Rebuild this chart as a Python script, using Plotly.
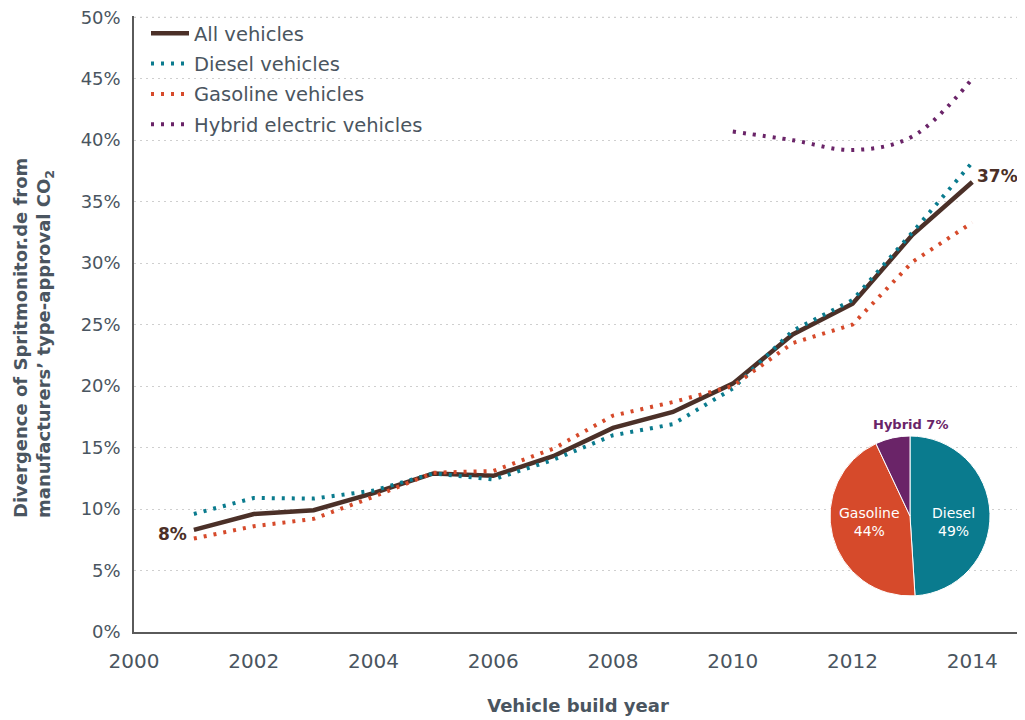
import plotly.graph_objects as go

years = [2001, 2002, 2003, 2004, 2005, 2006, 2007, 2008, 2009, 2010, 2011, 2012, 2013, 2014]
all_vehicles = [8.3, 9.6, 9.9, 11.3, 12.9, 12.7, 14.3, 16.6, 17.9, 20.2, 24.2, 26.7, 32.3, 36.6]
diesel = [9.6, 10.9, 10.85, 11.5, 12.9, 12.4, 14.0, 16.0, 16.9, 19.8, 24.5, 27.0, 32.5, 38.2]
gasoline = [7.6, 8.6, 9.2, 11.0, 12.95, 13.1, 14.9, 17.6, 18.7, 20.0, 23.5, 25.0, 30.1, 33.3]
hybrid_years = [2010, 2011, 2012, 2013, 2014]
hybrid = [40.7, 40.0, 39.2, 40.3, 45.0]

y_ticks = [0, 5, 10, 15, 20, 25, 30, 35, 40, 45, 50]
y_tick_labels = [f"{v}%" for v in y_ticks]

pie_labels = ["Diesel", "Gasoline", "Hybrid"]
pie_values = [49, 44, 7]

C_ALL = "#4b3028"
C_DIESEL = "#0a7b8e"
C_GAS = "#d64a2b"
C_HYB = "#6a2468"
GRAY = "#4a5560"
GRID = "#cfcfcf"
FONT = "DejaVu Sans"

# page body has an 8px margin; figure is sized so it ends at the window edge
OFF = 8
W, H = 1025 - OFF, 720 - OFF
L, T = 134 - OFF, 16 - OFF
R = W - (1022 - OFF)
B = H - (632 - OFF)
PW, PH = W - L - R, H - T - B


def px(x):
    return (x - OFF - L) / PW


def py(y):
    return (H - B - (y - OFF)) / PH


fig = go.Figure()
dots = "3px,7px"
fig.add_trace(go.Scatter(x=years, y=all_vehicles, mode="lines", name="All vehicles",
                         legendgroup="a", line=dict(color=C_ALL, width=4.5)))
fig.add_trace(go.Scatter(x=years, y=diesel, mode="lines", name="Diesel vehicles",
                         legendgroup="b", line=dict(color=C_DIESEL, width=4, dash=dots)))
fig.add_trace(go.Scatter(x=years, y=gasoline, mode="lines", name="Gasoline vehicles",
                         legendgroup="c", line=dict(color=C_GAS, width=4, dash=dots)))
fig.add_trace(go.Scatter(x=hybrid_years, y=hybrid, mode="lines", name="Hybrid electric vehicles",
                         legendgroup="d", line=dict(color=C_HYB, width=4, dash=dots, shape="spline")))

fig.add_trace(go.Pie(labels=pie_labels, values=pie_values, sort=False, direction="clockwise",
                     rotation=0, textinfo="none", showlegend=False, hoverinfo="label+percent",
                     marker=dict(colors=[C_DIESEL, C_GAS, C_HYB], line=dict(color="white", width=1)),
                     domain=dict(x=[px(830), px(990)], y=[py(596), py(436)])))

fig.add_annotation(x=years[0], y=all_vehicles[0], text="<b>8%</b>", showarrow=False,
                   xanchor="right", xshift=-5, yshift=-4, font=dict(size=17, color=C_ALL, family=FONT))
fig.add_annotation(x=years[-1], y=all_vehicles[-1], text="<b>37%</b>", showarrow=False,
                   xanchor="left", xshift=3, yshift=6, font=dict(size=17, color=C_ALL, family=FONT))

fig.add_annotation(xref="paper", yref="paper", x=px(869), y=py(522), xanchor="center", yanchor="middle",
                   text="Gasoline<br>44%", showarrow=False, font=dict(size=14, color="white", family=FONT))
fig.add_annotation(xref="paper", yref="paper", x=px(953), y=py(522), xanchor="center", yanchor="middle",
                   text="Diesel<br>49%", showarrow=False, font=dict(size=14, color="white", family=FONT))
fig.add_annotation(xref="paper", yref="paper", x=px(910), y=py(424), xanchor="center", yanchor="middle",
                   text="<b>Hybrid 7%</b>", showarrow=False, font=dict(size=13, color=C_HYB, family=FONT))

# y-axis title (two lines, aligned at the bottom like the reference)
fig.add_annotation(xref="paper", yref="paper", x=px(33), y=py(338), xanchor="center", yanchor="middle",
                   textangle=-90, align="left", showarrow=False,
                   text="<b>Divergence of Spritmonitor.de from<br>manufacturers\u2019 type-approval CO<sub>2</sub></b>",
                   font=dict(size=18, color=GRAY, family=FONT))

# top gridline at 50% (plotly drops gridlines at the very edge of the plot)
fig.add_shape(type="line", xref="paper", yref="y", x0=0, x1=1, y0=y_ticks[-1], y1=y_ticks[-1],
              line=dict(color=GRID, width=1.2, dash="2px,4px"), layer="below")

fig.update_layout(
    width=W, height=H,
    margin=dict(l=L, r=R, t=T, b=B, autoexpand=False),
    plot_bgcolor="white", paper_bgcolor="white",
    font=dict(family=FONT, color=GRAY, size=17),
    legend=dict(x=px(146), y=py(14), xanchor="left", yanchor="top", bgcolor="rgba(0,0,0,0)",
                font=dict(size=19.5, color=GRAY, family=FONT), itemwidth=38,
                traceorder="grouped", tracegroupgap=2),
    xaxis=dict(range=[2000, 2014.83], dtick=2, tick0=2000, showgrid=False, zeroline=False,
               showline=True, linecolor="#5a5a5a", linewidth=1.5, ticks="", ticklabelstandoff=10,
               tickfont=dict(size=20, color=GRAY), automargin=False,
               title=dict(text="<b>Vehicle build year</b>", font=dict(size=18, color=GRAY), standoff=28)),
    yaxis=dict(range=[0, 50.1], tickmode="array", tickvals=y_ticks, ticktext=y_tick_labels,
               ticklabeloverflow="allow",
               showgrid=True, gridcolor=GRID,
               griddash="2px,4px", gridwidth=1.2, zeroline=False, showline=True, linecolor="#5a5a5a",
               linewidth=1.5, ticks="", ticklabelstandoff=8, tickfont=dict(size=18, color=GRAY),
               automargin=False),
)

fig.write_html("out.html")
